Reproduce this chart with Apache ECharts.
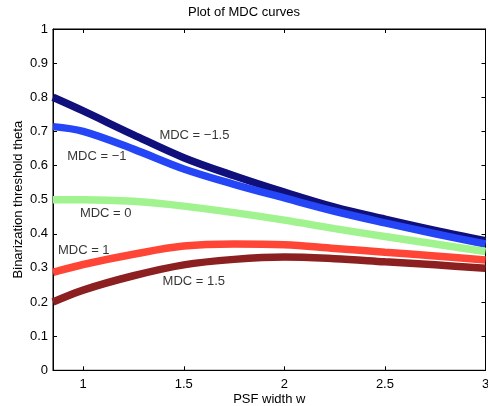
<!DOCTYPE html>
<html><head><meta charset="utf-8">
<script src="https://cdn.jsdelivr.net/npm/echarts@6/dist/echarts.min.js"></script>
<style>html,body{margin:0;padding:0;background:#fff}#c{width:488px;height:406px}</style>
</head><body><div id="c"></div>
<script>
const widths = [0.85, 1.0, 1.25, 1.5, 1.75, 2.0, 2.25, 2.5, 2.75, 3.0];
const mdcM15 = [0.800, 0.760, 0.690, 0.623, 0.570, 0.522, 0.478, 0.443, 0.410, 0.380];
const mdcM1  = [0.714, 0.700, 0.648, 0.590, 0.545, 0.505, 0.466, 0.432, 0.400, 0.370];
const mdc0   = [0.500, 0.500, 0.495, 0.481, 0.462, 0.440, 0.415, 0.392, 0.370, 0.348];
const mdc1   = [0.287, 0.310, 0.340, 0.364, 0.370, 0.368, 0.357, 0.346, 0.335, 0.323];
const mdc15  = [0.200, 0.235, 0.277, 0.309, 0.325, 0.332, 0.327, 0.318, 0.309, 0.299];
const xTicks = [1, 1.5, 2, 2.5, 3];
const yTicks = [0, 0.1, 0.2, 0.3, 0.4, 0.5, 0.6, 0.7, 0.8, 0.9, 1];
const curveLabels = [
  [1.553, 0.689, 'MDC = \u22121.5'],
  [1.068, 0.628, 'MDC = \u22121'],
  [1.112, 0.461, 'MDC = 0'],
  [1.003, 0.350, 'MDC = 1'],
  [1.550, 0.259, 'MDC = 1.5']
];
const seriesDefs = [
  ['MDC = -1.5', mdcM15, '#10107c'],
  ['MDC = -1', mdcM1, '#2446f6'],
  ['MDC = 0', mdc0, '#a0f38e'],
  ['MDC = 1', mdc1, '#ff4636'],
  ['MDC = 1.5', mdc15, '#8c2020']
];
const font = 'Liberation Sans, Arial, Helvetica, sans-serif';
const axisLine = {show: true, onZero: false, lineStyle: {color: '#000', width: 1}};
const series = seriesDefs.map(([name, vals, color]) => ({
  name, type: 'line', smooth: 0.35, symbol: 'none', xAxisIndex: 0, yAxisIndex: 0,
  data: widths.map((w, i) => [w, vals[i]]),
  lineStyle: {color, width: 7.5}, z: 2
}));
series.push({
  type: 'scatter', symbolSize: 0, silent: true, xAxisIndex: 0, yAxisIndex: 0,
  data: curveLabels.map(l => ({value: [l[0], l[1]], text: l[2]})),
  label: {show: true, position: 'inside', formatter: p => p.data.text,
    color: '#000', fontSize: 13, fontFamily: font}, z: 5
});
series.push({type: 'line', xAxisIndex: 1, yAxisIndex: 1, data: [], silent: true});
const chart = echarts.init(document.getElementById('c'), null, {renderer: 'canvas'});
chart.setOption({
  animation: false,
  backgroundColor: '#fff',
  title: {text: 'Plot of MDC curves', left: 'center', top: 1,
    textStyle: {fontSize: 13, fontWeight: 'normal', color: '#000', fontFamily: font}},
  grid: {left: 53, right: 2.5, top: 29, bottom: 35.7, containLabel: false, outerBoundsMode: 'none',
    show: true, borderColor: '#000', borderWidth: 1, backgroundColor: 'transparent'},
  xAxis: [
    {type: 'value', min: 0.85, max: 3, position: 'bottom', axisLine,
     axisTick: {show: true, inside: true, length: 4, customValues: xTicks, lineStyle: {color: '#000'}},
     axisLabel: {customValues: xTicks, color: '#000', fontSize: 13, fontFamily: font, margin: 8, showMaxLabel: true},
     splitLine: {show: false},
     name: 'PSF width w', nameLocation: 'middle', nameGap: 23, nameMoveOverlap: false,
     nameTextStyle: {fontSize: 13, color: '#000', fontFamily: font}},
    {type: 'value', min: 0.85, max: 3, position: 'top', axisLine,
     axisTick: {show: true, inside: true, length: 4, customValues: xTicks, lineStyle: {color: '#000'}},
     axisLabel: {show: false}, splitLine: {show: false}}
  ],
  yAxis: [
    {type: 'value', min: 0, max: 1, interval: 0.1, position: 'left', axisLine,
     axisTick: {show: true, inside: true, length: 4, lineStyle: {color: '#000'}},
     axisLabel: {color: '#000', fontSize: 13, fontFamily: font, margin: 5,
       formatter: v => String(Math.round(v * 10) / 10)},
     splitLine: {show: false},
     name: 'Binarization threshold theta', nameLocation: 'middle', nameGap: 28, nameMoveOverlap: false,
     nameTextStyle: {fontSize: 13, color: '#000', fontFamily: font}},
    {type: 'value', min: 0, max: 1, interval: 0.1, position: 'right', axisLine,
     axisTick: {show: true, inside: true, length: 4, lineStyle: {color: '#000'}},
     axisLabel: {show: false}, splitLine: {show: false}}
  ],
  series
});
</script></body></html>
